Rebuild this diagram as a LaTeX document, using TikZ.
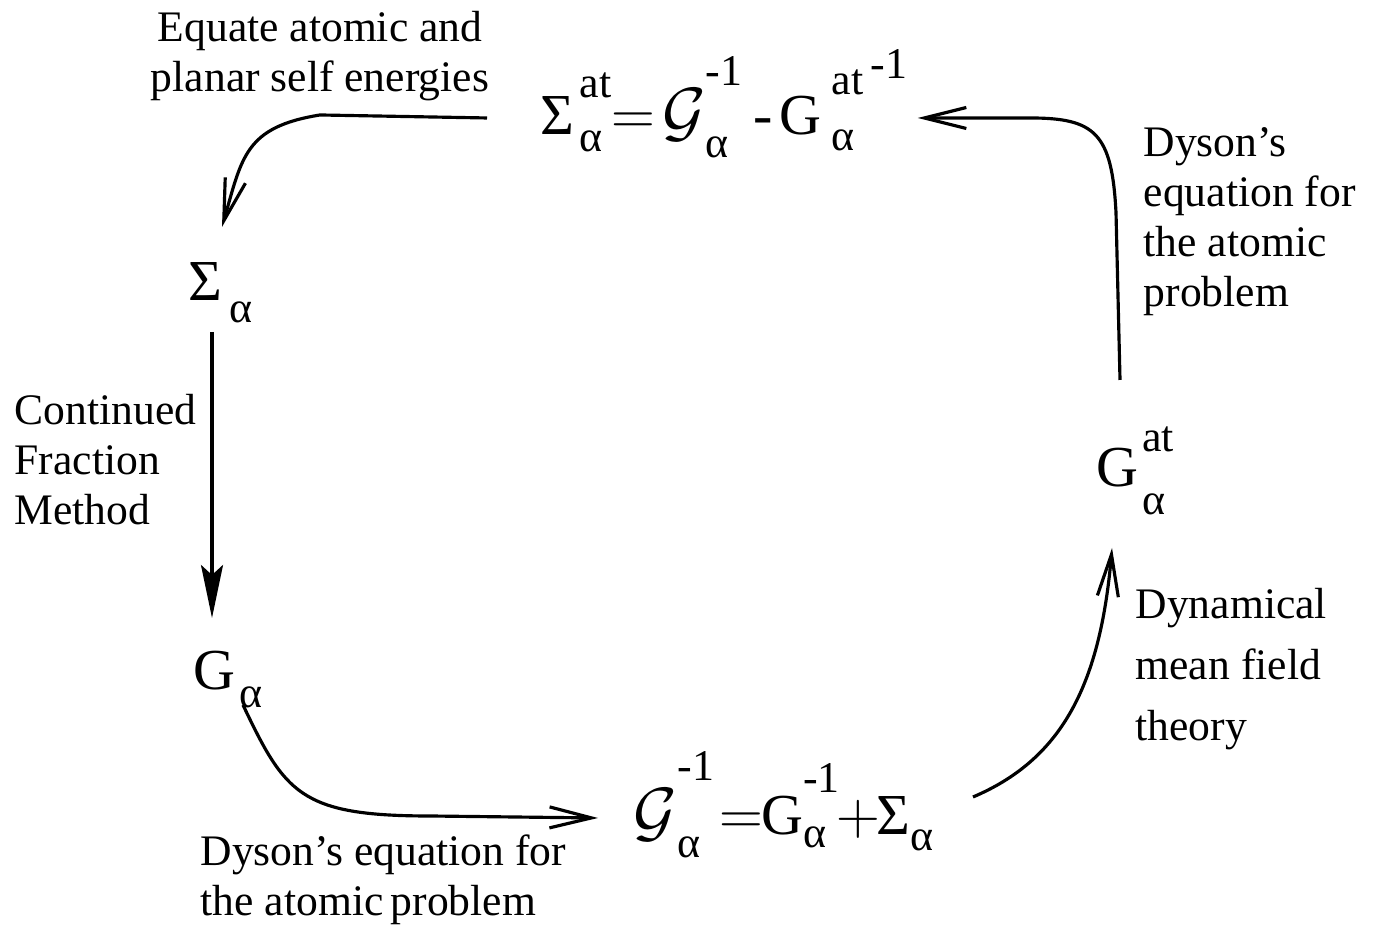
\documentclass[tikz,border=0pt]{standalone}
\usepackage{graphicx}
\usepackage{fontspec}
\setmainfont{Liberation Serif}
\usetikzlibrary{arrows.meta}
% script size and a stacked sup/sub pair: #1 raise, #2 sup, #3 drop, #4 sub
\newcommand{\scr}{\fontsize{12.5}{14}\selectfont}
\newcommand{\supsub}[4]{\begingroup\scr
  \setbox0\hbox{\raisebox{#1}{#2}}\setbox2\hbox{\raisebox{-#3}{#4}}%
  \ifdim\wd0>\wd2 \rlap{\box2}\box0 \else \rlap{\box0}\box2 \fi\endgroup}
\newcommand{\lowsub}[2]{\raisebox{-#1}{\scr #2}}
\newcommand{\calG}{\scalebox{1.1}{$\mathcal{G}$}}

\begin{document}
\begin{tikzpicture}[x=1cm, y=1cm,
          every node/.style={font=\fontsize{12.4}{14.2}\selectfont, inner sep=0pt},
          formula/.style={font=\fontsize{16.5}{18}\selectfont, anchor=base west},
          openarr/.style={line width=0.9pt, -{Straight Barb[length=4.2mm, width=2.1mm, line width=0.9pt]}},
          fullarr/.style={line width=0.9pt, -{Stealth[length=5.3mm, width=2.2mm, inset=1mm]}}]
        % Cycle: atomic self energy -> Sigma -> G -> cavity G -> G^at -> back.
        % Coordinates: (x, y) in cm, origin bottom left, 13.75 x 9.28 frame;
        %   formulas are placed by their baseline, left end.
        \useasboundingbox (0,0) rectangle (13.75,9.28);
        % the five quantities
        \node[formula] (sigat) at (5.40,7.93)
          {Σ\hspace{1.5pt}\supsub{10.8pt}{at}{4.8pt}{α}$=$\hspace{2pt}\calG%
           \supsub{14pt}{-1}{6.5pt}{α}\hspace{3pt}-\hspace{2pt}G\hspace{3pt}%
           \supsub{11.4pt}{at\hspace{2pt}\raisebox{4.6pt}{-1}}{4.3pt}{α}};
        \node[formula] (sig) at (1.88,6.27) {Σ\hspace{2pt}\lowsub{6pt}{α}};
        \node[formula] (ga) at (1.93,2.38) {G\hspace{1pt}\lowsub{5pt}{α}};
        \node[formula] (gcal) at (6.33,0.93)
          {\calG\supsub{15.6pt}{-1}{6.3pt}{α}\hspace{1.5pt}$=$\hspace{-0.5pt}G%
           \supsub{12.2pt}{-1}{3.7pt}{α}\hspace{-1pt}$+$\hspace{-1pt}Σ\lowsub{4.3pt}{α}};
        \node[formula] (gat) at (10.96,4.41) {G\hspace{1pt}\supsub{10.2pt}{at}{7.7pt}{α}};
        % the step labels
        \node[align=center] (eqlab) at (3.20,8.72)
          {Equate atomic and\\planar self energies};
        \node[align=left, anchor=west] (cfm) at (0.14,4.68)
          {Continued\\Fraction\\Method};
        \node[align=left, anchor=west] (dyseq) at (2.00,0.48)
          {Dyson's equation for\\the atomic\,problem};
        \node[align=left, anchor=west, font=\fontsize{12.4}{17.4}\selectfont] (dmft) at (11.35,2.59)
          {Dynamical\\mean field\\theory};
        \node[align=left, anchor=west] (dysat) at (11.43,7.06)
          {Dyson's\\equation for\\the atomic\\problem};
        % the arrows round the cycle
        \draw[openarr] ([xshift=-5.3mm]sigat.west |- 0,8.10) -- ++(-1.67,0.03)
          .. controls +(-0.75,-0.12) and +(0.2,0.7) .. (2.22,7.01);
        \draw[fullarr] (2.12,5.96) -- (2.12,3.10);
        \draw[openarr] (2.43,2.23) .. controls (2.85,1.35) and (3.0,1.12) .. (4.3,1.12)
          -- ([xshift=-3.5mm]gcal.west |- 0,1.10);
        \draw[openarr] (9.73,1.31) .. controls (10.6,1.68) and (11.0,2.4) .. (11.12,3.80);
        \draw[openarr] (11.20,5.48) -- (11.16,7.15)
          .. controls (11.12,7.95) and (10.95,8.10) .. (10.30,8.10)
          -- ([xshift=1mm]sigat.east |- 0,8.10);
\end{tikzpicture}
\end{document}
